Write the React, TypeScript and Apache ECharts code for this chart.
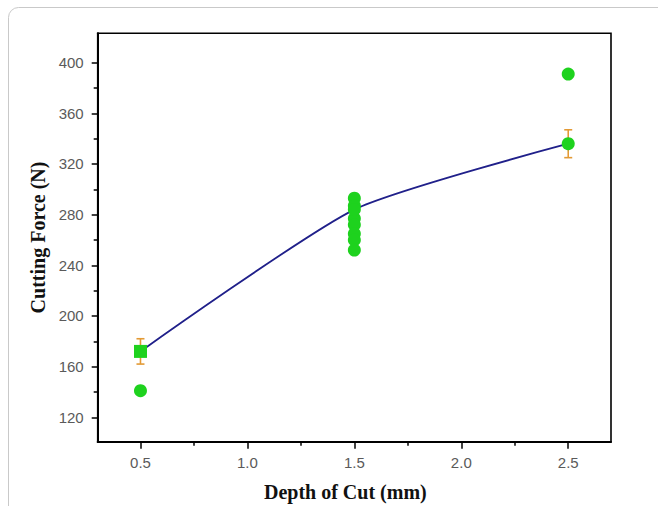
import React, { useEffect, useRef } from "react";
import * as echarts from "echarts";

// ---- data ----
const depthOfCut = [0.5, 1.5, 2.5];
const meanForce = [172, 284, 336];
const forceError = [10, 0, 11];
const meanSymbols = ["rect", "circle", "circle"];
const replicateDepth = [0.5, 1.5, 1.5, 1.5, 1.5, 1.5, 1.5, 1.5, 2.5];
const replicateForce = [141, 293, 287, 277, 272, 265, 260, 252, 391];

const yMajorTicks = [120, 160, 200, 240, 280, 320, 360, 400];
const yMinorTicks = [140, 180, 220, 260, 300, 340, 380];
const xMajorTicks = [0.5, 1.0, 1.5, 2.0, 2.5];
const xMinorTicks = [0.75, 1.25, 1.75, 2.25];

const Y_MIN = 100.7;
const Y_MAX = 423.2;
const X_MIN = 0.3;
const X_MAX = 2.7;

export default function App() {
  const ref = useRef<HTMLDivElement>(null);

  useEffect(() => {
    if (!ref.current) return;
    const chart = echarts.init(ref.current, null, { renderer: "svg" });

    const labelStyle = {
      color: "#5a5a5a",
      fontFamily: "Liberation Sans, Arial, sans-serif",
      fontSize: 15,
    };
    const nameStyle = {
      color: "#111",
      fontFamily: "Liberation Serif, Times New Roman, serif",
      fontWeight: "bold" as const,
      fontSize: 20,
    };
    const green = "#1ed21e";

    const option: any = {
      animation: false,
      backgroundColor: "#fff",
      graphic: [
        {
          type: "rect",
          z: -10,
          shape: { x: 8.5, y: 7.5, width: 700, height: 600, r: 10 },
          style: { fill: "none", stroke: "#c9c9c9", lineWidth: 1 },
        },
      ],
      grid: {
        left: 97.7,
        right: 47,
        top: 33.3,
        bottom: 64.3,
        containLabel: false,
        outerBoundsMode: "none",
        show: true,
        borderColor: "#000",
        borderWidth: 1.6,
        backgroundColor: "transparent",
      },
      xAxis: [
        {
          type: "value",
          min: X_MIN,
          max: X_MAX,
          position: "bottom",
          splitLine: { show: false },
          axisLine: { show: true, lineStyle: { color: "#000", width: 2 } },
          axisTick: {
            show: true,
            customValues: xMajorTicks,
            length: 7,
            lineStyle: { color: "#000", width: 1.5 },
          },
          axisLabel: {
            customValues: xMajorTicks,
            formatter: (v: number) => v.toFixed(1),
            margin: 13,
            ...labelStyle,
          },
          name: "Depth of Cut (mm)",
          nameLocation: "middle",
          nameGap: 40,
          nameTextStyle: { ...nameStyle, padding: [0, 18, 0, 0] },
        },
        {
          type: "value",
          min: X_MIN,
          max: X_MAX,
          position: "bottom",
          splitLine: { show: false },
          axisLine: { show: false },
          axisLabel: { show: false },
          axisTick: {
            show: true,
            customValues: xMinorTicks,
            length: 4,
            lineStyle: { color: "#000", width: 1.5 },
          },
        },
      ],
      yAxis: [
        {
          type: "value",
          min: Y_MIN,
          max: Y_MAX,
          position: "left",
          splitLine: { show: false },
          axisLine: { show: true, lineStyle: { color: "#000", width: 2 } },
          axisTick: {
            show: true,
            customValues: yMajorTicks,
            length: 6,
            lineStyle: { color: "#000", width: 1.5 },
          },
          axisLabel: {
            customValues: yMajorTicks,
            formatter: (v: number) => String(Math.round(v)),
            margin: 14,
            ...labelStyle,
          },
          name: "Cutting Force (N)",
          nameLocation: "middle",
          nameGap: 48,
          nameTextStyle: nameStyle,
        },
        {
          type: "value",
          min: Y_MIN,
          max: Y_MAX,
          position: "left",
          splitLine: { show: false },
          axisLine: { show: false },
          axisLabel: { show: false },
          axisTick: {
            show: true,
            customValues: yMinorTicks,
            length: 4,
            lineStyle: { color: "#000", width: 1.5 },
          },
        },
      ],
      series: [
        {
          type: "line",
          name: "fit",
          data: depthOfCut.map((x, i) => [x, meanForce[i]]),
          smooth: 0.2,
          showSymbol: false,
          symbol: "none",
          lineStyle: { color: "#20208a", width: 1.8 },
          z: 2,
        },
        {
          type: "custom",
          name: "error",
          z: 3,
          data: depthOfCut.map((x, i) => [x, meanForce[i], forceError[i]]),
          renderItem: (params: any, api: any) => {
            const x = api.value(0);
            const y = api.value(1);
            const e = api.value(2);
            if (!e) return null;
            const top = api.coord([x, y + e]);
            const bot = api.coord([x, y - e]);
            const hw = 4;
            const style = { stroke: "#e39a35", lineWidth: 1.6 };
            return {
              type: "group",
              children: [
                { type: "line", shape: { x1: top[0], y1: top[1], x2: bot[0], y2: bot[1] }, style },
                { type: "line", shape: { x1: top[0] - hw, y1: top[1], x2: top[0] + hw, y2: top[1] }, style },
                { type: "line", shape: { x1: bot[0] - hw, y1: bot[1], x2: bot[0] + hw, y2: bot[1] }, style },
              ],
            };
          },
        },
        {
          type: "scatter",
          name: "replicates",
          z: 4,
          symbol: "circle",
          symbolSize: 13,
          itemStyle: { color: green, opacity: 1 },
          data: replicateDepth.map((x, i) => [x, replicateForce[i]]),
        },
        {
          type: "scatter",
          name: "mean",
          z: 5,
          symbolSize: 13,
          itemStyle: { color: green, opacity: 1 },
          data: depthOfCut.map((x, i) => ({ value: [x, meanForce[i]], symbol: meanSymbols[i] })),
        },
      ],
    };

    chart.setOption(option);
    return () => chart.dispose();
  }, []);

  return (
    <div
      ref={ref}
      style={{ position: "fixed", left: 0, top: 0, width: 658, height: 506, background: "#fff" }}
    />
  );
}
